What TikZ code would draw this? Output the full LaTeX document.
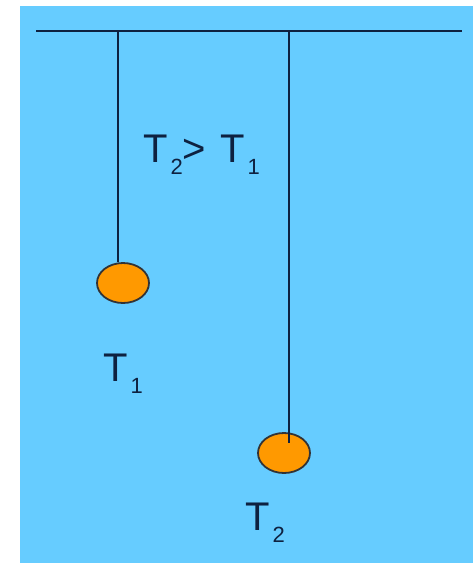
\documentclass[tikz,border=0pt]{standalone}
\usepackage{fontspec}
\setmainfont{Liberation Sans}
\usepackage{xcolor}
\usetikzlibrary{calc,shapes.geometric}
\definecolor{sky}{HTML}{66CCFF}
\definecolor{bob}{HTML}{FF9900}
\definecolor{ink}{HTML}{0E2140}
\tikzset{
  string/.style={draw=ink,line width=2.8pt},
  bobnode/.style={ellipse,fill=bob,draw=ink!85!bob,line width=1.8pt,minimum width=52pt,minimum height=40pt,inner sep=0pt},
  lbl/.style={text=ink,inner sep=0pt,font=\fontsize{40}{40}\selectfont}
}
\newcommand{\Tsub}[1]{T\kern3pt\raisebox{-12pt}{\fontsize{22}{22}\selectfont #1}}

\begin{document}
\begin{tikzpicture}[x=1pt,y=-1pt]
\useasboundingbox (0,0) rectangle (473,563);
\fill[sky] (20,6) rectangle (473,563);
\coordinate (barL) at (36,31);
\coordinate (barR) at (462,31);
\coordinate (top1) at (118,31);
\coordinate (top2) at (289,31);
\node[bobnode] (bob1) at (123,283) {};
\node[bobnode] (bob2) at (284,453) {};
\draw[string] (barL) -- (barR);
\draw[string] (top1) -- (top1 |- bob1.north);
\draw[string] (top2) -- ($(top2 |- bob2.center)+(0,-10)$);
\node[lbl,anchor=base west] (cmp) at (143,162) {\Tsub{2}>\kern14pt\Tsub{1}};
\node[lbl,anchor=base west] (lab1) at (103,381) {\Tsub{1}};
\node[lbl,anchor=base west] (lab2) at (245,530) {\Tsub{2}};
\end{tikzpicture}
\end{document}
